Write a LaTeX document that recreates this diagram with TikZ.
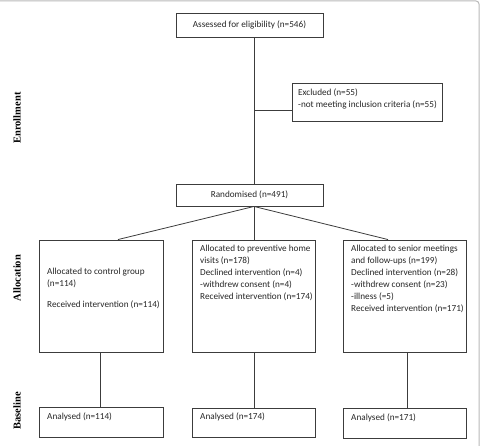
\documentclass[tikz,border=0pt]{standalone}
\usepackage{fontspec}
\setmainfont{Carlito}
\newfontfamily\labelfont{Liberation Serif}
\usetikzlibrary{calc}
\definecolor{boxline}{HTML}{3C3C3C}
\definecolor{txtcol}{HTML}{262626}
\tikzset{
  box/.style={draw=boxline, line width=0.9pt, rectangle, inner sep=0pt},
  conn/.style={draw=boxline, line width=0.8pt},
  txt/.style={inner sep=0pt, anchor=north west, align=left, text=txtcol,
    font=\fontsize{9.2}{12}\selectfont},
  ctxt/.style={text=txtcol, font=\fontsize{9.2}{12}\selectfont},
  side/.style={rotate=90, inner sep=0pt, font=\labelfont\bfseries\fontsize{10.5}{12}\selectfont}
}
\begin{document}
\begin{tikzpicture}[x=1pt,y=-1pt]
\useasboundingbox (0,0) rectangle (484,446);
% outer frame (partial, as in the reference)
\draw[gray!55, line width=1pt, rounded corners=3pt] (0,1) -- (479,1) -- (479,446);

% side labels
\node[side] (enr) at (17,118) {Enrollment};
\node[side] (alloc) at (17,278) {Allocation};
\node[side] (base) at (17,411) {Baseline};

% boxes
\node[box, ctxt, minimum width=147pt, minimum height=24pt] (assess) at (249.5,25) {Assessed for eligibility (n=546)};
\node[box, minimum width=150pt, minimum height=38pt] (excl) at (367,102) {};
\node[box, ctxt, minimum width=147pt, minimum height=22pt] (rand) at (249.5,195) {Randomised (n=491)};
\node[box, minimum width=124pt, minimum height=112pt] (gl) at (101,296) {};
\node[box, minimum width=123pt, minimum height=112pt] (gm) at (253.5,296) {};
\node[box, minimum width=123pt, minimum height=112pt] (gr) at (404.5,296) {};
\node[box, minimum width=124pt, minimum height=30pt] (bl) at (101,422) {};
\node[box, minimum width=123pt, minimum height=29pt] (bm) at (253.5,422.5) {};
\node[box, minimum width=123pt, minimum height=30pt] (br) at (404.5,423) {};

% texts
\node[txt] (exclt) at (298,89) {Excluded (n=55)\\-not meeting inclusion criteria (n=55)};
\node[txt] (glt) at (47,268) {Allocated to control group\\(n=114)\\[9pt]Received intervention (n=114)};
\node[txt] (gmt) at (200,245) {Allocated to preventive home\\visits (n=178)\\Declined intervention (n=4)\\-withdrew consent (n=4)\\Received intervention (n=174)};
\node[txt] (grt) at (351,245) {Allocated to senior meetings\\and follow-ups (n=199)\\Declined intervention (n=28)\\-withdrew consent (n=23)\\-illness (=5)\\Received intervention (n=171)};
\node[txt] (blt) at (47,413) {Analysed (n=114)};
\node[txt] (bmt) at (200,413) {Analysed (n=174)};
\node[txt] (brt) at (351,414) {Analysed (n=171)};

% connectors
\draw[conn] ($(assess.south)+(4.5,0)$) -- ($(rand.north)+(4.5,0)$);
\coordinate (branch) at (254,110);
\draw[conn] (branch) -- (branch -| excl.west);
\draw[conn] ($(rand.south)+(4.5,0)$) -- ($(gl.north)+(17,0)$);
\draw[conn] ($(rand.south)+(4.5,0)$) -- ($(gm.north)+(0.5,0)$);
\draw[conn] ($(rand.south)+(4.5,0)$) -- ($(gr.north)+(-16.5,0)$);
\draw[conn] ($(gl.south)+(-1,0)$) -- ($(bl.north)+(-1,0)$);
\draw[conn] ($(gm.south)+(0.5,0)$) -- ($(bm.north)+(0.5,0)$);
\draw[conn] ($(gr.south)+(2.5,0)$) -- ($(br.north)+(2.5,0)$);
\end{tikzpicture}
\end{document}
